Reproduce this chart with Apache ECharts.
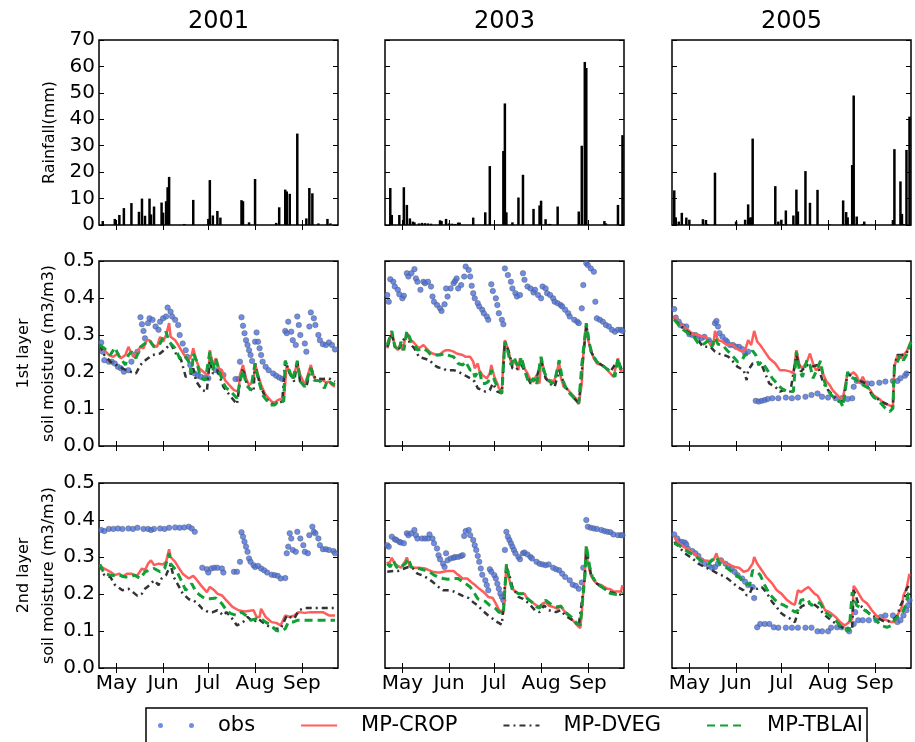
<!DOCTYPE html>
<html>
<head>
<meta charset="utf-8">
<title>Rainfall and soil moisture</title>
<script src="https://cdn.jsdelivr.net/npm/echarts@6/dist/echarts.min.js"></script>
<style>
  html, body { margin: 0; padding: 0; background: #fff; }
  #main { width: 915px; height: 742px; }
</style>
</head>
<body>
<div id="main"></div>
<script>
const years = ['2001', '2003', '2005'];
const monthStarts = [121, 152, 182, 213, 244];
const monthNames = ['May', 'Jun', 'Jul', 'Aug', 'Sep'];
const rowNames = ['Rainfall(mm)', '1st layer\nsoil moisture (m3/m3)', '2nd layer\nsoil moisture (m3/m3)'];
const seriesNames = ['obs', 'MP-CROP', 'MP-DVEG', 'MP-TBLAI'];

// daily rainfall (mm)
const rain2001 = [[112,1.5],[120,2.3],[123,3.8],[126,6.4],[131,8.3],[136,5],[138,10],[140,3.5],[143,10],[144,4],[146,7],[151,8.5],[152,4.7],[154,9],[155,14.3],[156,18.2],[166,0.4],[172,9.5],[182,2.3],[183,17],[185,3.6],[188,5.3],[190,2.8],[204,9.4],[205,9],[209,1],[213,17.4],[227,0.8],[229,6.7],[233,13.4],[234,12.7],[236,11.8],[241,34.6],[247,2.5],[249,14],[251,12],[255,0.6],[261,2.3],[263,0.6]];
const rain2003 = [[113,14],[114,3.8],[119,3.8],[122,14.3],[124,7.6],[126,2.5],[128,1.3],[129,1],[132,0.6],[134,0.8],[136,0.7],[138,0.6],[140,0.5],[146,1.8],[147,1.5],[150,2.3],[152,0.6],[154,0.5],[156,0.4],[158,0.9],[159,0.9],[168,2.8],[176,4.8],[179,22.3],[188,28],[189,46],[190,4.8],[194,1],[198,10.4],[201,19],[208,6.1],[212,7.4],[213,9.2],[216,2.2],[218,0.4],[219,0.4],[224,7],[238,5.1],[240,30],[242,61.7],[243,59.4],[255,1.5],[256,0.6],[264,7.6],[267,34]];
const rain2005 = [[111,13.1],[112,2.9],[114,1.3],[116,4.6],[119,2.8],[121,2],[130,2.2],[132,1.9],[133,0.4],[138,19.8],[152,1.3],[158,2],[160,7.8],[161,2.8],[162,2.9],[163,32.7],[178,14.7],[180,1.3],[182,2],[183,0.3],[185,5.5],[190,3.6],[192,13.4],[193,5.1],[198,20.4],[201,8.4],[206,13.3],[214,0.3],[223,9.3],[225,4.9],[226,2.9],[229,22.7],[230,49],[232,3.2],[236,0.4],[237,1.3],[256,1.9],[257,28.7],[261,16.5],[262,4.2],[263,0.4],[265,28.4],[267,41]];

// 1st layer soil moisture (m3/m3)
const obsL1_2001 = [[111,.280],[112,.255],[113,.232],[116,.228],[118,.228],[120,.223],[122,.214],[124,.210],[126,.201],[129,.205],[131,.228],[133,.246],[135,.255],[137,.348],[138,.329],[139,.311],[140,.291],[142,.332],[143,.345],[145,.341],[147,.323],[149,.314],[150,.336],[152,.345],[154,.350],[155,.374],[157,.363],[158,.350],[160,.341],[162,.327],[163,.300],[165,.277],[167,.259],[168,.241],[170,.219],[171,.201],[173,.196],[175,.190],[177,.187],[180,.185],[182,.183],[187,.205],[189,.201],[192,.192],[200,.181],[202,.181],[203,.228],[204,.348],[205,.325],[206,.305],[207,.286],[208,.273],[209,.259],[210,.246],[211,.230],[213,.282],[214,.307],[215,.282],[216,.264],[217,.246],[218,.228],[220,.214],[222,.205],[225,.196],[227,.190],[229,.185],[231,.181],[233,.311],[234,.305],[235,.336],[237,.309],[238,.286],[240,.273],[241,.350],[242,.327],[243,.300],[246,.277],[247,.255],[249,.323],[250,.361],[252,.345],[253,.327],[255,.300],[256,.286],[258,.275],[260,.273],[262,.280],[264,.273],[266,.261]];
const cropL1_2001 = [[110,.268],[113,.259],[116,.246],[119,.241],[122,.250],[124,.237],[127,.246],[129,.268],[131,.250],[133,.241],[135,.255],[137,.268],[139,.264],[141,.286],[143,.286],[145,.273],[148,.268],[150,.295],[152,.282],[154,.300],[156,.332],[157,.295],[160,.286],[162,.273],[164,.259],[166,.246],[169,.232],[171,.246],[172,.264],[174,.232],[176,.210],[180,.196],[182,.192],[183,.259],[185,.219],[187,.237],[189,.210],[191,.205],[193,.178],[195,.169],[197,.160],[199,.151],[202,.147],[203,.192],[205,.219],[207,.183],[209,.165],[212,.174],[213,.223],[215,.192],[217,.165],[220,.138],[224,.120],[226,.117],[228,.124],[230,.127],[232,.120],[234,.219],[236,.196],[238,.183],[241,.223],[243,.192],[246,.165],[248,.192],[250,.219],[252,.187],[253,.178],[256,.176],[258,.178],[260,.172],[262,.174],[264,.165],[266,.160]];
const dvegL1_2001 = [[110,.273],[113,.246],[117,.228],[121,.219],[125,.210],[130,.201],[134,.196],[137,.219],[139,.228],[142,.237],[145,.246],[150,.250],[154,.264],[157,.277],[161,.246],[164,.232],[167,.187],[170,.192],[172,.210],[174,.174],[178,.151],[181,.147],[183,.232],[185,.196],[188,.205],[192,.160],[196,.138],[201,.113],[203,.174],[205,.210],[208,.160],[212,.147],[213,.223],[216,.169],[220,.129],[225,.111],[231,.120],[233,.230],[236,.196],[239,.174],[241,.230],[243,.169],[247,.160],[250,.210],[253,.183],[258,.181],[262,.183],[266,.174]];
const tblaiL1_2001 = [[110,.273],[113,.264],[117,.246],[120,.266],[123,.241],[127,.219],[129,.246],[131,.255],[134,.237],[137,.268],[140,.277],[143,.286],[146,.268],[150,.277],[154,.309],[156,.282],[160,.264],[163,.237],[166,.246],[169,.228],[171,.196],[172,.250],[174,.232],[177,.183],[180,.178],[183,.255],[185,.205],[187,.237],[189,.205],[192,.169],[194,.156],[196,.151],[201,.129],[203,.174],[205,.205],[207,.169],[210,.151],[213,.223],[215,.183],[218,.138],[223,.111],[226,.111],[229,.124],[232,.120],[233,.230],[236,.201],[238,.178],[241,.230],[243,.174],[246,.160],[248,.185],[250,.210],[252,.178],[256,.176],[259,.156],[261,.178],[264,.169],[266,.165]];

const obsL1_2003 = [[111,.408],[112,.390],[113,.451],[115,.444],[116,.431],[118,.422],[119,.410],[121,.399],[122,.406],[124,.467],[125,.458],[127,.467],[129,.478],[130,.453],[131,.444],[133,.422],[135,.444],[136,.440],[138,.444],[140,.431],[141,.404],[142,.390],[144,.381],[146,.372],[147,.365],[149,.383],[150,.426],[151,.404],[153,.426],[155,.440],[156,.446],[157,.453],[158,.426],[160,.435],[162,.458],[163,.485],[165,.476],[166,.458],[167,.433],[168,.413],[169,.399],[171,.386],[172,.377],[174,.368],[175,.359],[177,.350],[178,.341],[180,.437],[181,.419],[183,.399],[184,.381],[185,.359],[187,.341],[188,.329],[189,.480],[191,.462],[193,.444],[194,.426],[196,.413],[197,.404],[199,.408],[201,.467],[202,.449],[204,.431],[206,.426],[208,.415],[209,.422],[211,.408],[213,.399],[214,.431],[216,.426],[217,.413],[219,.408],[221,.399],[222,.390],[224,.386],[226,.381],[227,.377],[229,.368],[231,.359],[232,.350],[235,.341],[237,.336],[238,.332],[240,.372],[241,.435],[243,.494],[244,.489],[246,.480],[248,.471],[249,.390],[250,.345],[252,.341],[254,.336],[256,.327],[258,.323],[260,.314],[262,.309],[264,.314],[266,.314],[267,.311]];
const cropL1_2003 = [[111,.264],[112,.277],[114,.305],[116,.273],[118,.259],[120,.277],[121,.259],[124,.305],[126,.286],[128,.282],[130,.273],[132,.264],[135,.273],[137,.264],[139,.255],[141,.250],[144,.246],[146,.248],[148,.255],[150,.259],[152,.259],[155,.255],[157,.250],[159,.248],[161,.246],[163,.241],[166,.241],[168,.228],[169,.210],[171,.223],[172,.205],[174,.192],[177,.183],[179,.196],[180,.219],[182,.187],[184,.169],[185,.156],[187,.147],[188,.237],[189,.286],[191,.264],[193,.228],[194,.219],[196,.232],[198,.205],[199,.237],[201,.223],[202,.210],[204,.196],[206,.178],[208,.174],[210,.192],[212,.169],[213,.237],[215,.205],[216,.187],[218,.174],[220,.178],[221,.169],[223,.192],[225,.228],[226,.187],[228,.160],[230,.156],[233,.142],[236,.129],[238,.113],[240,.169],[241,.246],[243,.329],[244,.291],[246,.259],[248,.237],[250,.223],[253,.219],[255,.214],[257,.205],[259,.196],[261,.187],[264,.237],[266,.201],[267,.205]];
const dvegL1_2003 = [[111,.268],[114,.305],[116,.268],[119,.264],[124,.305],[126,.277],[129,.264],[132,.241],[135,.237],[139,.232],[142,.219],[145,.212],[148,.210],[150,.205],[155,.205],[158,.201],[162,.192],[166,.183],[169,.174],[171,.156],[174,.151],[176,.147],[179,.151],[181,.169],[184,.147],[187,.142],[189,.282],[192,.250],[194,.210],[196,.205],[200,.219],[203,.196],[206,.169],[210,.183],[213,.232],[216,.183],[220,.165],[222,.160],[225,.205],[229,.160],[233,.138],[238,.115],[243,.327],[246,.255],[250,.228],[255,.214],[259,.201],[264,.232],[267,.201]];
const tblaiL1_2003 = [[111,.273],[114,.311],[116,.268],[119,.259],[120,.282],[122,.259],[124,.311],[127,.282],[129,.275],[131,.259],[135,.264],[138,.255],[140,.246],[142,.246],[146,.246],[149,.250],[151,.246],[155,.241],[158,.223],[161,.219],[163,.228],[166,.205],[168,.205],[169,.187],[172,.205],[174,.169],[176,.169],[178,.174],[180,.205],[182,.178],[184,.160],[187,.142],[189,.282],[191,.255],[193,.219],[195,.241],[198,.210],[200,.241],[202,.205],[205,.169],[208,.183],[210,.165],[213,.241],[215,.201],[217,.183],[220,.169],[222,.174],[225,.232],[227,.183],[230,.151],[235,.129],[238,.115],[240,.219],[243,.332],[245,.277],[247,.246],[250,.228],[255,.214],[259,.201],[262,.187],[264,.237],[266,.201],[267,.201]];

const obsL1_2005 = [[111,.370],[112,.347],[114,.336],[115,.327],[117,.323],[119,.323],[121,.302],[123,.300],[125,.300],[127,.295],[129,.291],[131,.295],[134,.286],[136,.277],[138,.332],[139,.338],[140,.323],[141,.305],[143,.295],[145,.286],[146,.282],[148,.273],[150,.273],[152,.268],[154,.268],[156,.262],[158,.250],[160,.255],[165,.122],[167,.120],[169,.122],[171,.124],[173,.127],[176,.129],[180,.129],[185,.131],[189,.129],[193,.131],[198,.133],[202,.138],[206,.142],[209,.133],[213,.131],[218,.129],[222,.129],[226,.127],[229,.129],[230,.160],[232,.176],[236,.172],[239,.169],[242,.169],[247,.171],[251,.174],[256,.176],[259,.176],[261,.183],[264,.190],[265,.196]];
const cropL1_2005 = [[111,.350],[114,.332],[117,.323],[120,.314],[124,.300],[127,.300],[130,.295],[132,.295],[135,.273],[137,.275],[138,.311],[140,.286],[143,.282],[146,.273],[148,.275],[150,.273],[152,.264],[156,.255],[158,.259],[160,.286],[162,.273],[164,.311],[166,.282],[168,.273],[171,.255],[174,.237],[178,.223],[181,.205],[184,.205],[188,.201],[190,.196],[192,.259],[194,.219],[196,.210],[199,.228],[201,.250],[203,.223],[205,.205],[208,.214],[210,.192],[212,.174],[214,.165],[216,.151],[219,.138],[221,.129],[223,.133],[226,.199],[227,.192],[230,.199],[232,.190],[234,.169],[236,.187],[239,.160],[241,.151],[243,.138],[247,.127],[250,.115],[253,.111],[256,.106],[257,.214],[259,.246],[262,.237],[263,.246],[265,.255],[268,.282]];
const dvegL1_2005 = [[111,.341],[115,.327],[118,.314],[123,.300],[127,.286],[130,.268],[135,.268],[138,.255],[140,.250],[144,.246],[147,.241],[150,.228],[153,.214],[157,.205],[159,.178],[160,.205],[163,.223],[165,.223],[169,.219],[174,.169],[178,.160],[181,.147],[184,.151],[188,.147],[192,.246],[195,.201],[199,.219],[202,.214],[206,.219],[210,.169],[213,.151],[216,.138],[220,.120],[223,.120],[226,.196],[229,.187],[233,.178],[238,.169],[242,.138],[247,.124],[251,.115],[256,.106],[257,.219],[259,.246],[262,.246],[265,.250],[268,.277]];
const tblaiL1_2005 = [[111,.341],[114,.327],[117,.314],[120,.305],[124,.295],[127,.277],[129,.273],[131,.277],[134,.286],[136,.268],[138,.293],[140,.275],[143,.273],[146,.259],[149,.246],[151,.237],[153,.228],[156,.232],[158,.248],[160,.246],[163,.257],[165,.246],[167,.219],[169,.228],[172,.210],[176,.183],[179,.169],[182,.156],[186,.147],[190,.147],[192,.255],[194,.205],[196,.187],[199,.232],[201,.219],[203,.183],[205,.201],[208,.230],[210,.183],[212,.156],[215,.138],[219,.124],[221,.120],[223,.106],[226,.201],[227,.187],[230,.183],[233,.174],[236,.165],[240,.156],[243,.133],[247,.120],[251,.102],[254,.093],[256,.102],[257,.219],[259,.228],[261,.246],[263,.232],[265,.246],[268,.282]];

// 2nd layer soil moisture (m3/m3)
const obsL2_2001 = [[111,.373],[113,.370],[116,.376],[119,.376],[122,.377],[125,.376],[129,.377],[132,.376],[135,.379],[139,.376],[142,.376],[144,.373],[146,.376],[150,.377],[153,.376],[156,.379],[160,.380],[163,.379],[166,.380],[169,.382],[171,.377],[173,.368],[178,.271],[181,.267],[182,.258],[184,.269],[186,.271],[188,.271],[191,.269],[192,.258],[199,.260],[201,.260],[203,.287],[204,.367],[205,.355],[206,.341],[207,.328],[208,.314],[209,.296],[210,.287],[212,.278],[213,.273],[215,.276],[217,.269],[219,.264],[221,.258],[224,.252],[226,.251],[228,.249],[230,.242],[233,.243],[234,.310],[235,.328],[236,.364],[237,.350],[238,.319],[240,.314],[241,.368],[243,.350],[245,.332],[246,.314],[248,.310],[249,.359],[251,.382],[252,.368],[253,.364],[255,.350],[256,.332],[258,.321],[260,.321],[262,.319],[265,.316],[266,.310]];
const cropL2_2001 = [[110,.276],[113,.269],[117,.260],[120,.251],[123,.255],[125,.246],[128,.255],[131,.255],[133,.251],[135,.251],[138,.269],[140,.264],[142,.282],[144,.291],[146,.278],[149,.282],[152,.280],[154,.287],[156,.321],[157,.300],[160,.287],[162,.273],[165,.255],[169,.242],[172,.249],[174,.240],[177,.224],[181,.205],[183,.219],[186,.210],[188,.201],[191,.196],[194,.183],[198,.165],[202,.156],[206,.153],[212,.156],[214,.138],[216,.138],[217,.160],[220,.138],[224,.124],[227,.122],[230,.115],[233,.142],[236,.138],[239,.142],[242,.151],[246,.149],[250,.151],[255,.151],[258,.151],[262,.142],[266,.142]];
const dvegL2_2001 = [[110,.280],[113,.251],[117,.246],[120,.225],[122,.219],[125,.210],[129,.214],[132,.205],[135,.195],[138,.201],[140,.214],[143,.224],[146,.237],[149,.224],[151,.242],[154,.251],[157,.280],[159,.246],[162,.224],[165,.201],[169,.186],[172,.183],[175,.174],[178,.160],[182,.151],[185,.151],[188,.156],[192,.142],[194,.151],[197,.138],[201,.115],[202,.110],[205,.124],[208,.138],[212,.124],[215,.133],[218,.124],[221,.115],[226,.106],[230,.106],[234,.142],[236,.138],[239,.133],[242,.156],[246,.162],[256,.162],[266,.162]];
const tblaiL2_2001 = [[110,.280],[113,.255],[117,.251],[120,.249],[123,.251],[127,.246],[130,.246],[133,.251],[137,.242],[140,.260],[143,.264],[146,.269],[150,.260],[153,.269],[156,.310],[157,.282],[161,.262],[164,.237],[167,.210],[171,.228],[174,.205],[177,.195],[180,.187],[183,.187],[187,.189],[191,.174],[194,.156],[197,.147],[201,.142],[204,.151],[207,.142],[210,.129],[214,.133],[217,.133],[220,.124],[224,.115],[227,.101],[230,.099],[233,.106],[235,.124],[238,.124],[241,.129],[249,.129],[258,.129],[266,.129]];

const obsL2_2003 = [[111,.332],[112,.328],[114,.355],[116,.348],[117,.346],[119,.341],[120,.339],[122,.337],[124,.364],[125,.359],[127,.364],[129,.373],[130,.359],[131,.350],[134,.350],[136,.350],[138,.350],[139,.361],[141,.350],[142,.337],[144,.323],[145,.305],[146,.294],[148,.282],[149,.273],[150,.310],[151,.291],[153,.296],[155,.298],[156,.300],[158,.300],[160,.303],[161,.305],[162,.357],[163,.370],[165,.373],[166,.359],[168,.346],[169,.332],[170,.319],[171,.303],[172,.287],[173,.269],[174,.252],[176,.237],[177,.224],[178,.210],[179,.267],[180,.260],[182,.251],[183,.242],[184,.228],[185,.214],[186,.201],[187,.192],[188,.183],[189,.319],[190,.368],[191,.355],[192,.346],[193,.337],[194,.328],[195,.319],[196,.310],[198,.300],[199,.294],[201,.310],[202,.312],[204,.307],[206,.300],[207,.296],[210,.287],[212,.282],[214,.280],[216,.278],[218,.280],[221,.271],[223,.267],[225,.264],[227,.255],[229,.246],[232,.237],[234,.225],[236,.222],[238,.214],[240,.231],[241,.271],[243,.400],[244,.382],[246,.379],[248,.377],[250,.376],[253,.373],[255,.370],[257,.368],[259,.367],[261,.361],[264,.359],[266,.359],[267,.359]];
const cropL2_2003 = [[111,.287],[112,.278],[114,.298],[116,.282],[118,.276],[120,.271],[123,.289],[124,.299],[126,.273],[129,.271],[132,.271],[136,.269],[139,.264],[141,.260],[144,.258],[146,.258],[148,.260],[151,.262],[155,.262],[157,.255],[159,.249],[161,.242],[164,.242],[167,.231],[169,.225],[172,.214],[175,.205],[178,.192],[181,.189],[183,.174],[185,.158],[188,.147],[189,.210],[190,.280],[191,.251],[193,.224],[195,.210],[198,.201],[202,.201],[204,.187],[207,.178],[210,.169],[212,.165],[214,.174],[216,.178],[218,.169],[221,.165],[224,.160],[226,.169],[228,.156],[231,.142],[234,.129],[237,.115],[239,.108],[240,.151],[242,.260],[243,.328],[244,.282],[246,.251],[248,.237],[250,.228],[253,.224],[255,.219],[257,.214],[259,.213],[261,.207],[266,.207],[267,.224]];
const dvegL2_2003 = [[111,.260],[115,.262],[118,.262],[121,.267],[125,.273],[128,.269],[131,.255],[135,.249],[138,.242],[141,.233],[145,.219],[148,.210],[151,.210],[155,.207],[158,.201],[161,.195],[165,.189],[168,.178],[171,.169],[174,.156],[178,.142],[181,.133],[184,.124],[187,.117],[190,.273],[192,.251],[194,.219],[198,.192],[201,.187],[205,.174],[209,.156],[212,.151],[215,.169],[218,.156],[223,.151],[226,.156],[229,.142],[234,.129],[238,.115],[242,.242],[243,.323],[246,.255],[250,.228],[255,.214],[259,.205],[264,.201],[267,.196]];
const tblaiL2_2003 = [[111,.282],[113,.273],[115,.291],[117,.273],[119,.269],[123,.282],[125,.296],[127,.273],[129,.269],[132,.269],[136,.264],[139,.260],[142,.251],[145,.246],[148,.242],[151,.240],[155,.242],[158,.242],[161,.233],[163,.228],[166,.219],[169,.201],[171,.187],[174,.183],[176,.180],[179,.169],[181,.165],[183,.160],[185,.151],[188,.147],[190,.280],[192,.242],[194,.210],[198,.201],[202,.201],[204,.187],[207,.178],[210,.165],[212,.162],[214,.176],[216,.183],[220,.171],[223,.165],[226,.167],[229,.151],[233,.138],[236,.124],[239,.115],[242,.246],[243,.332],[245,.278],[247,.246],[250,.228],[255,.214],[259,.201],[264,.198],[267,.205]];

const obsL2_2005 = [[111,.361],[113,.350],[114,.341],[116,.341],[118,.339],[119,.334],[120,.323],[123,.316],[125,.310],[127,.303],[129,.291],[131,.282],[134,.276],[136,.271],[138,.273],[140,.282],[142,.291],[145,.282],[147,.276],[149,.269],[151,.260],[153,.251],[156,.242],[158,.233],[160,.224],[163,.219],[164,.189],[166,.110],[168,.119],[171,.119],[174,.119],[177,.110],[180,.109],[185,.109],[189,.109],[193,.109],[198,.109],[202,.109],[206,.099],[209,.099],[213,.099],[215,.109],[219,.110],[222,.110],[226,.104],[227,.099],[230,.119],[231,.151],[233,.129],[236,.129],[240,.129],[245,.129],[248,.138],[251,.142],[256,.142],[259,.124],[261,.129],[263,.142],[265,.156],[266,.169],[267,.183]];
const cropL2_2005 = [[111,.355],[114,.337],[117,.328],[120,.321],[124,.310],[127,.300],[130,.291],[134,.289],[137,.291],[139,.310],[140,.296],[143,.291],[145,.282],[148,.278],[151,.273],[154,.271],[157,.260],[160,.264],[163,.282],[164,.300],[166,.282],[169,.264],[172,.246],[176,.228],[179,.210],[182,.201],[186,.183],[189,.174],[191,.171],[193,.210],[195,.205],[198,.214],[200,.219],[202,.210],[204,.201],[206,.196],[209,.174],[211,.156],[214,.151],[218,.138],[221,.124],[224,.115],[227,.124],[229,.133],[230,.222],[232,.210],[234,.196],[236,.183],[239,.174],[242,.156],[245,.142],[248,.133],[252,.129],[255,.124],[257,.124],[259,.142],[262,.165],[263,.196],[265,.214],[267,.255]];
const dvegL2_2005 = [[111,.341],[115,.323],[118,.310],[123,.296],[127,.282],[131,.273],[136,.264],[140,.255],[145,.246],[149,.233],[153,.219],[157,.210],[159,.196],[161,.201],[163,.219],[166,.214],[169,.219],[172,.205],[176,.178],[179,.165],[181,.151],[184,.142],[188,.133],[191,.124],[193,.151],[195,.165],[199,.174],[203,.174],[206,.165],[211,.142],[215,.129],[220,.115],[224,.106],[229,.106],[230,.214],[233,.174],[238,.156],[242,.142],[247,.133],[251,.124],[256,.129],[259,.142],[261,.169],[264,.192],[265,.214],[267,.224]];
const tblaiL2_2005 = [[111,.337],[114,.332],[117,.323],[120,.314],[124,.305],[127,.296],[130,.287],[134,.282],[137,.296],[139,.300],[141,.282],[145,.273],[148,.264],[151,.255],[155,.242],[158,.228],[161,.224],[163,.264],[166,.260],[168,.251],[171,.224],[174,.201],[178,.183],[181,.174],[184,.169],[188,.160],[191,.151],[193,.156],[195,.183],[199,.187],[202,.169],[206,.178],[208,.174],[211,.151],[214,.142],[218,.129],[221,.115],[224,.106],[227,.101],[229,.205],[232,.169],[236,.160],[239,.151],[242,.142],[245,.129],[248,.115],[252,.110],[255,.115],[257,.129],[259,.138],[262,.147],[264,.165],[266,.196],[267,.214]];

const FONT = 'DejaVu Sans';
const colLeft = [99, 385, 672];
const rowTop = [40, 261, 483];
const PW = 239, PH = 185;
const DAY_MIN = 109.5, DAY_MAX = 268;

const rainData = [rain2001, rain2003, rain2005];
const layerData = [
  [[obsL1_2001, cropL1_2001, dvegL1_2001, tblaiL1_2001],
   [obsL1_2003, cropL1_2003, dvegL1_2003, tblaiL1_2003],
   [obsL1_2005, cropL1_2005, dvegL1_2005, tblaiL1_2005]],
  [[obsL2_2001, cropL2_2001, dvegL2_2001, tblaiL2_2001],
   [obsL2_2003, cropL2_2003, dvegL2_2003, tblaiL2_2003],
   [obsL2_2005, cropL2_2005, dvegL2_2005, tblaiL2_2005]]
];

const lineStyles = {
  'MP-CROP': { color: '#ff5c5c', width: 2.5, type: 'solid' },
  'MP-DVEG': { color: '#333333', width: 2.5, type: [6, 4, 2, 4] },
  'MP-TBLAI': { color: '#10a035', width: 3, type: [8, 5] }
};

const grids = [], xAxes = [], yAxes = [], series = [];

function dayAxis(gi, pos, withLabels) {
  return {
    type: 'value', gridIndex: gi, position: pos, min: DAY_MIN, max: DAY_MAX,
    axisLine: { show: false }, splitLine: { show: false },
    axisTick: { show: true, inside: true, length: 5, customValues: monthStarts, lineStyle: { color: '#000' } },
    axisLabel: {
      show: withLabels, customValues: monthStarts, margin: 6, color: '#000', fontSize: 20, fontFamily: FONT,
      formatter: function (v) { return monthNames[monthStarts.indexOf(v)]; }
    }
  };
}

function valueAxis(gi, pos, withLabels, max, step) {
  return {
    type: 'value', gridIndex: gi, position: pos, min: 0, max: max, interval: step,
    axisLine: { show: false }, splitLine: { show: false },
    axisTick: { show: true, inside: true, length: 5, lineStyle: { color: '#000' } },
    axisLabel: {
      show: withLabels, margin: 4, color: '#000', fontSize: 20, fontFamily: FONT,
      formatter: function (v) { return step < 1 ? v.toFixed(1) : String(v); }
    }
  };
}

for (let r = 0; r < 3; r++) {
  for (let c = 0; c < 3; c++) {
    const gi = grids.length;
    grids.push({ left: colLeft[c], top: rowTop[r], width: PW, height: PH, show: true,
      borderColor: '#000', borderWidth: 1.5, backgroundColor: 'transparent' });
    xAxes.push(dayAxis(gi, 'bottom', r === 2));
    xAxes.push(dayAxis(gi, 'top', false));
    const max = r === 0 ? 70 : 0.5, step = r === 0 ? 10 : 0.1;
    yAxes.push(valueAxis(gi, 'left', c === 0, max, step));
    yAxes.push(valueAxis(gi, 'right', false, max, step));
    const xi = 2 * gi, yi = 2 * gi;
    if (r === 0) {
      series.push({ name: 'Rainfall', type: 'bar', xAxisIndex: xi, yAxisIndex: yi,
        data: rainData[c], barWidth: 2.5, itemStyle: { color: '#000' } });
    } else {
      const sets = layerData[r - 1][c];
      series.push({ name: 'obs', type: 'scatter', xAxisIndex: xi, yAxisIndex: yi, data: sets[0],
        symbol: 'circle', symbolSize: 5.5, color: '#4a70e0',
        itemStyle: { color: '#4a70e0', borderColor: 'rgba(90,90,90,0.7)', borderWidth: 0.8 } });
      for (let k = 1; k < 4; k++) {
        const nm = seriesNames[k];
        series.push({ name: nm, type: 'line', xAxisIndex: xi, yAxisIndex: yi, data: sets[k],
          symbol: 'none', showSymbol: false, color: lineStyles[nm].color, lineStyle: lineStyles[nm] });
      }
    }
  }
}

const graphics = [];
years.forEach(function (y, i) {
  graphics.push({ type: 'text', x: colLeft[i] + PW / 2, y: 22,
    style: { text: y, fontSize: 24, fontFamily: FONT, fill: '#000', textAlign: 'center', textVerticalAlign: 'middle' } });
});
rowNames.forEach(function (t, r) {
  graphics.push({ type: 'text', x: r === 0 ? 50 : 36, y: rowTop[r] + PH / 2, rotation: Math.PI / 2,
    style: { text: t, fontSize: 16, lineHeight: 25, fontFamily: FONT, fill: '#000', textAlign: 'center', textVerticalAlign: 'middle' } });
});

const obsIcon = 'path://M0,0L0.01,0L0,0.01Z M36,14L35.99,14L36,13.99Z M0,7a2.5,2.5 0 1,0 5,0a2.5,2.5 0 1,0 -5,0Z M31,7a2.5,2.5 0 1,0 5,0a2.5,2.5 0 1,0 -5,0Z';
const hideSymbol = { opacity: 0 };

const chart = echarts.init(document.getElementById('main'), null, { renderer: 'canvas' });
chart.setOption({
  animation: false,
  backgroundColor: '#fff',
  textStyle: { fontFamily: FONT },
  grid: grids,
  xAxis: xAxes,
  yAxis: yAxes,
  legend: {
    data: [
      { name: 'obs', icon: obsIcon, itemStyle: { borderWidth: 0, color: '#4a70e0' } },
      { name: 'MP-CROP', itemStyle: hideSymbol },
      { name: 'MP-DVEG', itemStyle: hideSymbol },
      { name: 'MP-TBLAI', itemStyle: hideSymbol }
    ],
    left: 146, top: 708, orient: 'horizontal',
    padding: [7, 4, 30, 12],
    itemWidth: 36, itemHeight: 14, itemGap: 45,
    borderColor: '#000', borderWidth: 1.5,
    textStyle: { fontSize: 21, color: '#000', fontFamily: FONT, padding: [0, 0, 0, 19] },
    selectedMode: false
  },
  graphic: graphics,
  series: series
});
</script>
</body>
</html>
